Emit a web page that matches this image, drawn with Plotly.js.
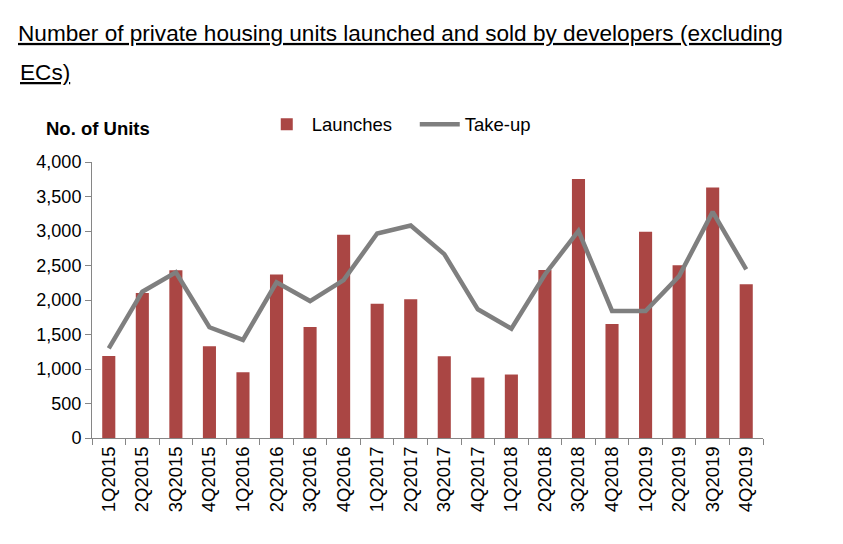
<!DOCTYPE html>
<html>
<head>
<meta charset="utf-8">
<script src="https://cdn.plot.ly/plotly-3.0.1.min.js"></script>
<style>html,body{margin:0;padding:0;background:#fff;}#chart{width:843px;height:544px;}</style>
</head>
<body>
<div id="chart"></div>
<script>
const quarters = ["1Q2015","2Q2015","3Q2015","4Q2015","1Q2016","2Q2016","3Q2016","4Q2016",
  "1Q2017","2Q2017","3Q2017","4Q2017","1Q2018","2Q2018","3Q2018","4Q2018",
  "1Q2019","2Q2019","3Q2019","4Q2019"];
const launches = [1190,2100,2430,1330,954,2370,1610,2944,1946,2010,1186,876,920,2434,3754,1653,2988,2502,3630,2227];
const takeUp = [1300,2120,2400,1605,1421,2256,1985,2289,2964,3080,2665,1865,1585,2370,3002,1841,1841,2347,3277,2444];
const yTicks = [0,500,1000,1500,2000,2500,3000,3500,4000];

const FONT = "Liberation Sans, Arial, sans-serif";
const traces = [
  {type:"bar", name:"Launches", x:quarters, y:launches,
   marker:{color:"#AA4644"}, width:0.39},
  {type:"scatter", mode:"lines", name:"Take-up", x:quarters, y:takeUp,
   line:{color:"#7F7F7F", width:4.5}}
];
const layout = {
  width:843, height:544,
  margin:{l:92, r:80, t:162, b:106},
  paper_bgcolor:"#fff", plot_bgcolor:"#fff",
  font:{family:FONT, color:"#000"},
  showlegend:true,
  title:{text:"<u>Number of private housing units launched and sold by developers (excluding</u>",
    xref:"container", yref:"container", x:18/843, xanchor:"left", y:1-33/544, yanchor:"middle",
    font:{family:FONT, size:22.6, color:"#000"}},
  legend:{orientation:"h", x:0.253, xanchor:"left", y:1.135, yanchor:"middle",
    font:{family:FONT, size:18.5, color:"#000"}, itemwidth:40, entrywidth:98, entrywidthmode:"pixels",
    traceorder:"normal", bgcolor:"rgba(0,0,0,0)"},
  xaxis:{type:"category", range:[-0.5,19.5], tickson:"boundaries", ticks:"outside", ticklen:6,
    tickcolor:"#868686", showline:true, linecolor:"#868686", linewidth:1, showgrid:false,
    tickangle:-90, tickfont:{family:FONT, size:18.5, color:"#000"}, fixedrange:true},
  yaxis:{range:[0,4000], tickvals:yTicks, tickformat:",", ticks:"outside", ticklen:6,
    tickcolor:"#868686", showline:true, linecolor:"#868686", linewidth:1, showgrid:false,
    zeroline:false, tickfont:{family:FONT, size:18, color:"#000"}, fixedrange:true},
  annotations:[
    {text:"<u>ECs)</u>", xref:"paper", yref:"paper", x:(18-92)/671, xanchor:"left",
     y:(438-73)/276, yanchor:"middle", showarrow:false, font:{family:FONT, size:22.6, color:"#000"}},
    {text:"<b>No. of Units</b>", xref:"paper", yref:"paper", x:(44-92)/671, xanchor:"left",
     y:(438-129)/276, yanchor:"middle", showarrow:false, font:{family:FONT, size:18.5, color:"#000"}}
  ]
};
Plotly.newPlot("chart", traces, layout, {displayModeBar:false, staticPlot:true});
</script>
</body>
</html>
